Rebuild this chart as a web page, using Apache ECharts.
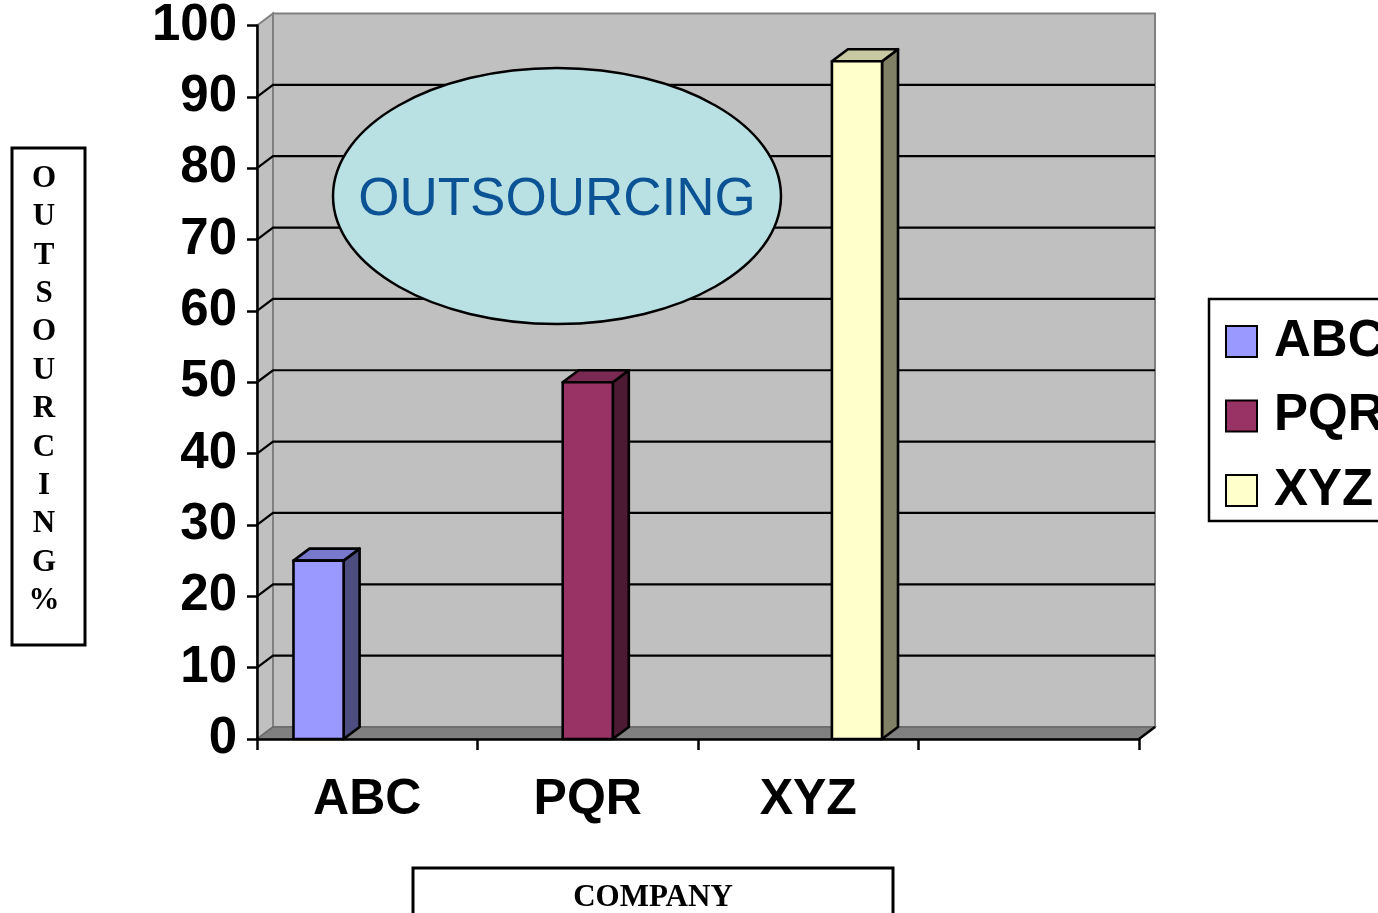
<!DOCTYPE html>
<html>
<head>
<meta charset="utf-8">
<script src="https://cdn.jsdelivr.net/npm/echarts@6/dist/echarts.min.js"></script>
<style>
html,body{margin:0;padding:0;background:#fff;}
#chart{width:1378px;height:913px;}
</style>
</head>
<body>
<div id="chart"></div>
<script>
// ---- data ----
const categories = ['ABC', 'PQR', 'XYZ', ''];
const seriesNames = ['ABC', 'PQR', 'XYZ'];
const abcValues = [25, null, null, null];
const pqrValues = [null, 50, null, null];
const xyzValues = [null, null, 95, null];
const yTicks = [0, 10, 20, 30, 40, 50, 60, 70, 80, 90, 100];
const yAxisTitle = 'OUTSOURCING%';
const xAxisTitle = 'COMPANY';
const calloutText = 'OUTSOURCING';

// ---- style ----
const DX = 16, DY = -12;
const BAR_FRAC = 50 / 220;
const STEP_FRAC = 48.6 / 220;
const palette = [
  { front: '#9999FF', side: '#4D4D80', top: '#7878CC' },
  { front: '#993366', side: '#4D1A33', top: '#7A2952' },
  { front: '#FFFFCC', side: '#808066', top: '#C8C8A3' }
];
const sans = 'Arial, "Liberation Sans", sans-serif';
const serif = '"Times New Roman", "Liberation Serif", serif';

const chart = echarts.init(document.getElementById('chart'), null, { renderer: 'canvas' });

function toData(arr) {
  const out = [];
  arr.forEach((v, i) => { if (v !== null) out.push([i, v]); });
  return out;
}
const valueSets = [abcValues, pqrValues, xyzValues];

function wallsRender(params, api) {
  const cs = params.coordSys;
  const x = cs.x, y = cs.y, w = cs.width, h = cs.height;
  const yb = y + h;
  const children = [];
  children.push({ type: 'rect', shape: { x: x + DX, y: y + DY, width: w, height: h },
    style: { fill: '#C0C0C0', stroke: '#808080', lineWidth: 2 } });
  children.push({ type: 'polygon', shape: { points: [[x, y], [x + DX, y + DY], [x + DX, yb + DY], [x, yb]] },
    style: { fill: '#C0C0C0', stroke: '#808080', lineWidth: 2 } });
  children.push({ type: 'polygon', shape: { points: [[x, yb], [x + DX, yb + DY], [x + w + DX, yb + DY], [x + w, yb]] },
    style: { fill: '#808080', stroke: '#6a6a6a', lineWidth: 1.5 } });
  yTicks.forEach(v => {
    if (v === yTicks[0] || v === yTicks[yTicks.length - 1]) return;
    const yf = api.coord([0, v])[1];
    children.push({ type: 'polyline', shape: { points: [[x, yf], [x + DX, yf + DY], [x + w + DX, yf + DY]] },
      style: { stroke: '#000', lineWidth: 2.2, fill: null } });
  });
  children.push({ type: 'line', shape: { x1: x + w, y1: yb, x2: x + w + DX, y2: yb + DY },
    style: { stroke: '#000', lineWidth: 2.5 } });
  return { type: 'group', children: children };
}

function barRender(params, api) {
  const si = params.seriesIndex - 1;
  const cat = api.value(0), v = api.value(1);
  const base = api.coord([cat, 0]);
  const top = api.coord([cat, v]);
  const catW = api.size([1, 0])[0];
  const bw = catW * BAR_FRAC;
  const step = catW * STEP_FRAC;
  const x0 = base[0] + (si - 1) * step - bw / 2;
  const x1 = x0 + bw;
  const yt = top[1], yb = base[1];
  const c = palette[si];
  const st = { stroke: '#000', lineWidth: 2.6, lineJoin: 'round' };
  return { type: 'group', children: [
    { type: 'polygon', shape: { points: [[x1, yt], [x1 + DX, yt + DY], [x1 + DX, yb + DY], [x1, yb]] },
      style: Object.assign({ fill: c.side }, st) },
    { type: 'polygon', shape: { points: [[x0, yt], [x0 + DX, yt + DY], [x1 + DX, yt + DY], [x1, yt]] },
      style: Object.assign({ fill: c.top }, st) },
    { type: 'rect', shape: { x: x0, y: yt, width: bw, height: yb - yt },
      style: Object.assign({ fill: c.front }, st) }
  ]};
}

const series = [{
  name: '__walls', type: 'custom', z: 1, silent: true,
  renderItem: wallsRender, data: [[0, 0]], encode: { x: 0, y: 1 }
}];
seriesNames.forEach((n, i) => {
  series.push({
    name: n, type: 'custom', z: 4, renderItem: barRender,
    itemStyle: { color: palette[i].front },
    data: toData(valueSets[i]), encode: { x: 0, y: 1 }
  });
});

const option = {
  animation: false,
  backgroundColor: '#fff',
  grid: { left: 257, right: 239, top: 24, bottom: 174, containLabel: false },
  xAxis: {
    type: 'category', data: categories, z: 3,
    boundaryGap: true,
    axisLine: { show: true, lineStyle: { color: '#000', width: 2.5 } },
    axisTick: { show: true, length: 11, inside: false, alignWithLabel: false, interval: 0, lineStyle: { color: '#000', width: 2.5 } },
    axisLabel: { fontSize: 50, fontWeight: 'bold', fontFamily: sans, color: '#000', margin: 36, interval: 0 },
    splitLine: { show: false }
  },
  yAxis: {
    type: 'value', min: 0, max: 100, interval: 10, z: 3,
    axisLine: { show: true, lineStyle: { color: '#000', width: 2.5 } },
    axisTick: { show: true, length: 10, inside: false, lineStyle: { color: '#000', width: 2.5 } },
    axisLabel: { fontSize: 51, fontWeight: 'bold', fontFamily: sans, color: '#000', margin: 20 },
    splitLine: { show: false }
  },
  legend: {
    data: seriesNames.map((n, i) => ({ name: n, icon: 'rect',
      itemStyle: { color: palette[i].front, borderColor: '#000', borderWidth: 2 } })),
    orient: 'vertical', left: 1209, top: 299,
    itemWidth: 31, itemHeight: 31, itemGap: 23.5,
    padding: [17, 20, 5, 16],
    borderColor: '#000', borderWidth: 2.5,
    selectedMode: false,
    textStyle: { fontSize: 51, fontWeight: 'bold', fontFamily: sans, color: '#000', lineHeight: 50, padding: [0, 0, 0, 12] }
  },
  graphic: [
    { type: 'rect', z: 10, shape: { x: 12, y: 148, width: 73, height: 497 },
      style: { fill: 'none', stroke: '#000', lineWidth: 3 } },
    { type: 'text', x: 44, y: 390, z: 10,
      style: { text: yAxisTitle.split('').join('\n'), font: 'bold 31px ' + serif, fill: '#000',
        align: 'center', verticalAlign: 'middle', lineHeight: 38.4 } },
    { type: 'rect', z: 10, shape: { x: 413, y: 868, width: 480, height: 60 },
      style: { fill: 'none', stroke: '#000', lineWidth: 3 } },
    { type: 'text', x: 653, y: 898, z: 10,
      style: { text: xAxisTitle, font: 'bold 31px ' + serif, fill: '#000', align: 'center', verticalAlign: 'middle' } },
    { type: 'ellipse', z: 20, shape: { cx: 557, cy: 196, rx: 224, ry: 128 },
      style: { fill: '#B9E0E3', stroke: '#000', lineWidth: 2.5 } },
    { type: 'text', x: 557, y: 200, z: 21,
      style: { text: calloutText, font: '53px ' + sans, fill: '#0B5394', align: 'center', verticalAlign: 'middle' } }
  ],
  series: series
};
chart.setOption(option);
</script>
</body>
</html>
